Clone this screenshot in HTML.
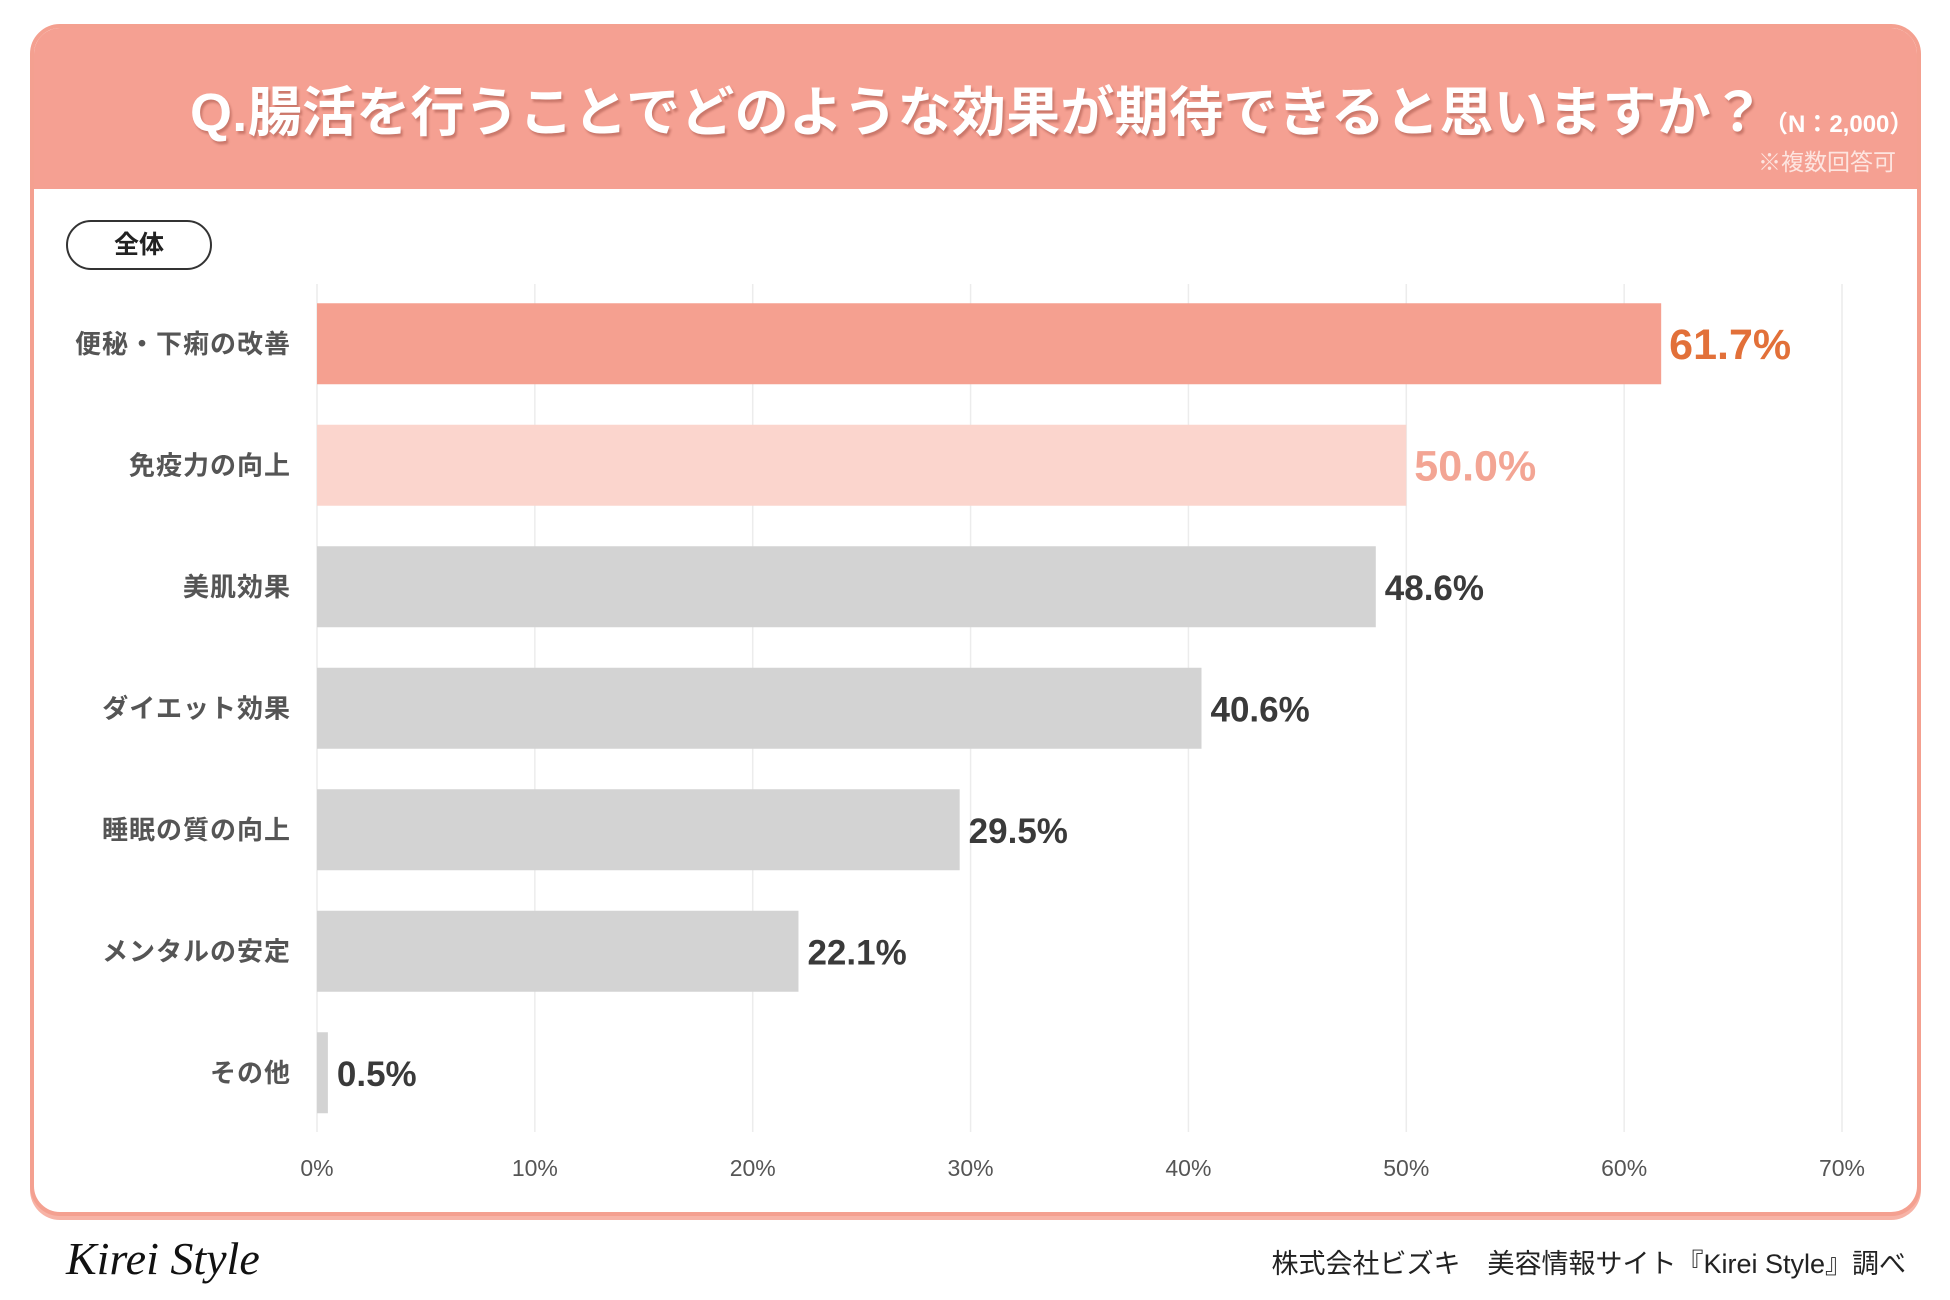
<!DOCTYPE html>
<html><head><meta charset="utf-8">
<style>
html,body{margin:0;padding:0;background:#fff;}
body{width:1950px;height:1300px;position:relative;overflow:hidden;font-family:"Liberation Sans","Noto Sans CJK JP",sans-serif;}
#card{position:absolute;left:30px;top:24px;width:1883px;height:1184px;border:4px solid #f4a090;border-radius:30px;background:#fff;overflow:hidden;box-shadow:0 4px 0 #f7b3a6;}
#header{position:absolute;left:0;top:0;width:100%;height:161px;background:#f5a092;}
#title{position:absolute;left:156px;top:40px;color:#fff;font-weight:bold;font-size:54px;letter-spacing:0.3px;text-shadow:2px 3px 2px rgba(150,70,60,0.45);white-space:nowrap;}
#n{position:absolute;left:1730px;top:76px;color:#fff;font-weight:bold;font-size:24px;white-space:nowrap;}
#multi{position:absolute;left:1724px;top:115px;color:#fde5e0;font-size:23px;white-space:nowrap;}
#pill{position:absolute;left:32px;top:192px;width:142px;height:46px;border:2px solid #333;border-radius:26px;text-align:center;line-height:46px;font-size:25px;font-weight:bold;color:#222;}
#logo{position:absolute;left:66px;top:1232px;font-family:"Liberation Serif",serif;font-style:italic;font-size:46px;color:#111;}
#credit{position:absolute;right:44px;top:1242px;font-size:27px;color:#222;white-space:nowrap;}
</style></head><body>
<div id="card">
  <div id="header">
    <div id="title">Q.腸活を行うことでどのような効果が期待できると思いますか？</div>
    <div id="n">（N：2,000）</div>
    <div id="multi">※複数回答可</div>
  </div>
  <div id="pill">全体</div>
</div>
<svg id="chart" width="1950" height="1300" style="position:absolute;left:0;top:0"></svg>
<div id="logo">Kirei Style</div>
<div id="credit">株式会社ビズキ　美容情報サイト『Kirei Style』調べ</div>
<script>
const categories=["便秘・下痢の改善","免疫力の向上","美肌効果","ダイエット効果","睡眠の質の向上","メンタルの安定","その他"];
const values=[61.7,50.0,48.6,40.6,29.5,22.1,0.5];
const ticks=[0,10,20,30,40,50,60,70];
const tickLabels=["0%","10%","20%","30%","40%","50%","60%","70%"];
const NS="http://www.w3.org/2000/svg";
const svg=document.getElementById('chart');
const x0=317,x1=1842,xmax=70;
const xs=v=>x0+(x1-x0)*v/xmax;
const yTop=283,band=121.5,barH=81;
const yc=i=>yTop+band*i+band/2;
function mk(t,a){const e=document.createElementNS(NS,t);for(const k in a)e.setAttribute(k,a[k]);svg.appendChild(e);return e;}
ticks.forEach((t,i)=>{
  const g=mk('line',{x1:xs(t),x2:xs(t),y1:284,y2:1132,stroke:'#ececec','stroke-width':1.5});
  
  
  const l=mk('text',{x:xs(t),y:1176,'text-anchor':'middle','font-size':23,fill:'#555','font-family':'Liberation Sans, sans-serif'});
  l.textContent=tickLabels[i];
  
  
});
const fills=['#f5a090','#fbd5cd'];
const vcol=['#e27039','#f3a594'];
values.forEach((v,i)=>{
  const c=yc(i);
  const r=mk('rect',{x:x0,y:c-barH/2,width:xs(v)-x0,height:barH,fill:fills[i]||'#d3d3d3'});
  
  
  const big=i<2;
  const vt=mk('text',{x:xs(v)+(big?8:9),y:c+(big?15:13),'font-size':big?43:35,'font-weight':'bold',fill:vcol[i]||'#3a3a3a','font-family':'Liberation Sans, sans-serif'});
  vt.textContent=v.toFixed(1)+'%';
  
  
  const ct=mk('text',{x:291,y:c+9,'text-anchor':'end','font-size':26,'font-weight':'bold',fill:'#555','letter-spacing':1,'font-family':'Liberation Sans, Noto Sans CJK JP, sans-serif'});
  ct.textContent=categories[i];
  
  
});
</script>
</body></html>
